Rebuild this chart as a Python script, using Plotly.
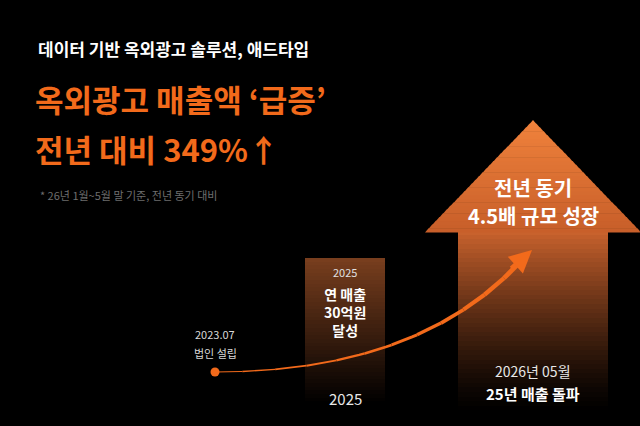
import plotly.graph_objects as go
import numpy as np

FONT = "Noto Sans CJK KR"
ORANGE = "#f26a1b"
# data
milestones = ["2023.07", "2025", "2026년 05월"]
revenue_2025 = 30          # 억원
growth_pct = 349
growth_ratio = 4.5
bar_labels = ["2025", "연 매출<br>30억원<br>달성"]

fig = go.Figure()
W, H = 640, 426
base = 405
px_per_eok = 147 / revenue_2025

def lerp(c1, c2, t):
    return tuple(int(a + (b - a) * t) for a, b in zip(c1, c2))

N = 40
h = revenue_2025 * px_per_eok
top_c, bot_c = (120, 62, 30), (0, 0, 0)
for i in range(N):
    t = i / (N - 1)
    c = lerp(bot_c, top_c, t)
    fig.add_trace(go.Bar(x=[345], y=[-h / N], base=[base - h * i / N], width=80,
                         marker=dict(color=f"rgb{c}", line_width=0), hoverinfo="skip", showlegend=False))

shaft_top, shaft_bottom = 230, 415
hs = shaft_bottom - shaft_top
atop, abot = (200, 98, 45), (0, 0, 0)
for i in range(N):
    t = i / (N - 1)
    c = lerp(abot, atop, t ** 1.3)
    fig.add_trace(go.Bar(x=[533], y=[-hs / N], base=[shaft_bottom - hs * i / N], width=150,
                         marker=dict(color=f"rgb{c}", line_width=0), hoverinfo="skip", showlegend=False))
tip = (533, 120)
M = 30
for i in range(M):
    y0 = 232 - (232 - tip[1]) * i / M
    y1 = 232 - (232 - tip[1]) * (i + 1) / M
    hw0 = 108 * (y0 - tip[1]) / (232 - tip[1])
    hw1 = 108 * (y1 - tip[1]) / (232 - tip[1])
    c = lerp((200, 95, 42), (240, 130, 60), i / (M - 1))
    fig.add_trace(go.Scatter(x=[533 - hw0, 533 + hw0, 533 + hw1, 533 - hw1, 533 - hw0],
                             y=[y0 + 0.5, y0 + 0.5, y1, y1, y0 + 0.5], fill="toself",
                             fillcolor=f"rgb{c}", line_width=0, mode="lines",
                             hoverinfo="skip", showlegend=False))

t = np.linspace(0, 1, 60)
P0, P1, P2 = np.array([215, 372]), np.array([420, 372]), np.array([522, 260])
pts = ((1 - t)[:, None] ** 2) * P0 + (2 * (1 - t) * t)[:, None] * P1 + (t[:, None] ** 2) * P2
S = 12
for k in range(S):
    a, b = k * 59 // S, (k + 1) * 59 // S + 1
    fig.add_trace(go.Scatter(x=pts[a:b, 0], y=pts[a:b, 1], mode="lines",
                             line=dict(color=ORANGE, width=1 + 4 * k / S),
                             hoverinfo="skip", showlegend=False))
fig.add_trace(go.Scatter(x=[215], y=[372], mode="markers", marker=dict(color=ORANGE, size=9),
                         hoverinfo="skip", showlegend=False))
fig.add_annotation(x=532, y=250, ax=510, ay=270, xref="x", yref="y", axref="x", ayref="y",
                   text="", showarrow=True, arrowhead=2, arrowsize=0.9, arrowwidth=5, arrowcolor=ORANGE)

def txt(x, y, s, size, color="white", bold=False, xa="left", fam=FONT):
    fig.add_annotation(x=x, y=y, text=f"<b>{s}</b>" if bold else s, showarrow=False,
                       xanchor=xa, yanchor="middle", font=dict(family=fam, size=size, color=color))

txt(36, 48, "데이터 기반 옥외광고 솔루션, 애드타입", 17, bold=True)
txt(33, 98, "옥외광고 매출액 ‘급증’", 31, color=ORANGE, bold=True)
txt(33, 148, f"전년 대비 {growth_pct}%↑", 31, color=ORANGE, bold=True)
txt(38, 195, "* 26년 1월~5월 말 기준, 전년 동기 대비", 11, color="#6e6e6e")
txt(215, 334, milestones[0], 11, color="#d8d8d8", xa="center")
txt(215, 353, "법인 설립", 11, color="#d8d8d8", xa="center")
txt(345, 272, bar_labels[0], 11, color="#e0e0e0", xa="center")
fig.add_annotation(x=345, y=312, text="<b>" + bar_labels[1] + "</b>", showarrow=False,
                   font=dict(family=FONT, size=14, color="white"), align="center")
txt(345, 398, milestones[1], 15, color="#e8e8e8", xa="center")
txt(533, 187, "전년 동기", 20, bold=True, xa="center")
txt(533, 215, f"{growth_ratio}배 규모 성장", 20, bold=True, xa="center")
txt(533, 371, milestones[2], 14, color="#e8e8e8", xa="center")
txt(533, 393, "<b>25년 매출 돌파</b>", 15, color="white", xa="center")

fig.update_layout(width=W, height=H, margin=dict(l=0, r=0, t=0, b=0),
                  paper_bgcolor="black", plot_bgcolor="black", barmode="overlay", bargap=0,
                  xaxis=dict(range=[0, W], visible=False, fixedrange=True),
                  yaxis=dict(range=[H, 0], visible=False, fixedrange=True))
fig.write_html("out.html", config={"displayModeBar": False},
               post_script="document.body.style.margin='0';document.body.style.background='black';")
